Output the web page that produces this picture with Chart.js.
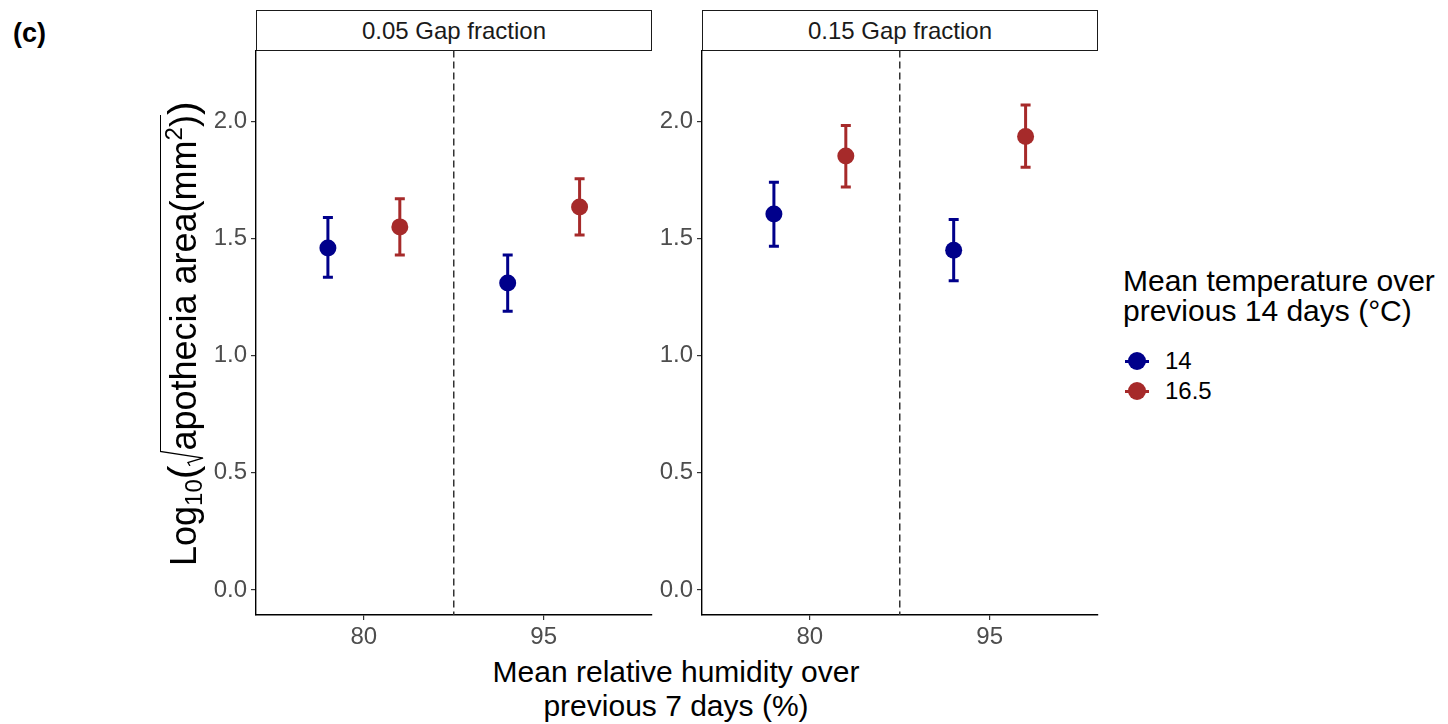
<!DOCTYPE html>
<html>
<head>
<meta charset="utf-8">
<script src="https://cdn.jsdelivr.net/npm/chart.js@4.4.1/dist/chart.umd.min.js"></script>
<style>
  body { margin: 0; width: 1448px; height: 724px; background: #fff; position: relative; overflow: hidden;
         font-family: 'Liberation Sans', Arial, sans-serif; color: #000; }
  canvas { position: absolute; top: 42px; }
  #c1 { left: 190px; }
  #c2 { left: 636px; }
  .strip { position: absolute; top: 10px; width: 396px; height: 41px; box-sizing: border-box;
           border: 1.5px solid #1a1a1a; text-align: center; font-size: 24px; line-height: 38px;
           padding-top: 1px; color: #1a1a1a; }
  #tag { position: absolute; left: 13px; top: 20px; font-size: 27px; font-weight: bold; line-height: 27px; }
  #xtitle { position: absolute; left: 276px; width: 800px; top: 655px; text-align: center;
            font-size: 30px; line-height: 34px; }
  #ytitle { position: absolute; left: 160px; top: 566px; transform-origin: 0 0; transform: rotate(-90deg);
            font-size: 36px; line-height: 36px; padding-top: 5.5px; white-space: nowrap; }
  #ytitle sub { font-size: 24px; line-height: 0; vertical-align: -6px; }
  #ytitle .bigp { font-size: 41px; line-height: 0; vertical-align: -1px; }
  #ytitle svg { display: inline-block; vertical-align: -8px; margin-top: -44px; }
  #ytitle .over { border-top: 1.5px solid #000; padding-top: 2px; }
  #ytitle sup { font-size: 24px; line-height: 0; vertical-align: 14px; }
  #legend { position: absolute; left: 1123px; top: 266px; }
  #legend .ttl { font-size: 30px; line-height: 30px; }
  #legend .item { position: relative; height: 30px; font-size: 24px; line-height: 30px; padding-left: 42px; }
  #legend .key { position: absolute; left: 2px; top: 5px; width: 24px; height: 20px; }
  #legend .key .ln { position: absolute; left: 0; top: 8.5px; width: 24px; height: 3px; }
  #legend .key .dot { position: absolute; left: 3px; top: 1px; width: 18px; height: 18px; border-radius: 50%; }
</style>
</head>
<body>
<div id="tag">(c)</div>
<div class="strip" id="s1" style="left:256px"></div>
<div class="strip" id="s2" style="left:702px"></div>
<canvas id="c1" width="470" height="613"></canvas>
<canvas id="c2" width="470" height="613"></canvas>
<div id="ytitle">Log<sub>10</sub><span class="bigp">(</span><svg width="15" height="44" viewBox="0 0 15 44"><path d="M0 30 L3.5 28 L8 43 L14.5 0.75 L15 0.75" fill="none" stroke="#000" stroke-width="1.3"/></svg><span class="over">apothecia area(mm<sup>2</sup>)</span><span class="bigp">)</span></div>
<div id="xtitle">Mean relative humidity over<br>previous 7 days (%)</div>
<div id="legend">
  <div class="ttl">Mean temperature over<br>previous 14 days (°C)</div>
  <div id="items" style="margin-top:20px"></div>
</div>
<script>
const humidity = ['80', '95'];
const temperatures = ['14', '16.5'];
const gapFractions = ['0.05 Gap fraction', '0.15 Gap fraction'];
const yTicks = [0, 0.5, 1, 1.5, 2];
const colors = ['#00008b', '#a62a2a'];

// 0.05 gap fraction: mean and error bar ends, per humidity level
const gap05Temp14 = [1.46, 1.31];
const gap05Temp14Low = [1.335, 1.19];
const gap05Temp14High = [1.59, 1.43];
const gap05Temp165 = [1.55, 1.635];
const gap05Temp165Low = [1.43, 1.515];
const gap05Temp165High = [1.67, 1.755];

// 0.15 gap fraction
const gap15Temp14 = [1.605, 1.45];
const gap15Temp14Low = [1.467, 1.32];
const gap15Temp14High = [1.74, 1.582];
const gap15Temp165 = [1.853, 1.936];
const gap15Temp165Low = [1.72, 1.805];
const gap15Temp165High = [1.983, 2.07];

const dodge = [-0.2, 0.2];

function makeDataset(k, mean, low, high) {
    return {
        label: temperatures[k],
        data: mean.map((v, i) => ({ x: i + 1 + dodge[k], y: v })),
        low: low,
        high: high,
        backgroundColor: colors[k],
        borderWidth: 0,
        pointRadius: 8.5,
        pointHoverRadius: 8.5
    };
}

const errorBars = {
    id: 'errorBars',
    beforeDatasetsDraw(chart) {
        const { ctx, chartArea, scales: { x, y } } = chart;
        ctx.save();
        // dashed divider between humidity levels
        const xm = x.getPixelForValue(1.5);
        ctx.setLineDash([7, 4]);
        ctx.strokeStyle = '#333';
        ctx.lineWidth = 1.5;
        ctx.beginPath();
        ctx.moveTo(xm, chartArea.top);
        ctx.lineTo(xm, chartArea.bottom);
        ctx.stroke();
        ctx.setLineDash([]);
        chart.data.datasets.forEach((ds) => {
            ctx.strokeStyle = ds.backgroundColor;
            ctx.lineWidth = 3;
            ds.low.forEach((lo, j) => {
                const px = x.getPixelForValue(ds.data[j].x);
                const top = y.getPixelForValue(ds.high[j]);
                const bot = y.getPixelForValue(lo);
                ctx.beginPath();
                ctx.moveTo(px, top); ctx.lineTo(px, bot);
                ctx.moveTo(px - 5, top); ctx.lineTo(px + 5, top);
                ctx.moveTo(px - 5, bot); ctx.lineTo(px + 5, bot);
                ctx.stroke();
            });
        });
        ctx.restore();
    }
};

function makePanel(id, datasets) {
    return new Chart(document.getElementById(id), {
        type: 'scatter',
        data: { datasets: datasets },
        options: {
            responsive: false,
            animation: false,
            devicePixelRatio: 1,
            layout: { padding: { top: 0, right: 5, bottom: 0, left: 0 } },
            plugins: { legend: { display: false }, tooltip: { enabled: false } },
            scales: {
                x: {
                    type: 'linear',
                    min: 0.4,
                    max: 2.6,
                    afterBuildTicks: s => { s.ticks = humidity.map((h, i) => ({ value: i + 1 })); },
                    afterFit: s => { s.height = 40; s.paddingLeft = 0; s.paddingRight = 0; },
                    ticks: {
                        callback: v => humidity[v - 1],
                        font: { family: "'Liberation Sans', Arial, sans-serif", size: 24 },
                        color: '#4d4d4d',
                        padding: 3,
                        maxRotation: 0
                    },
                    grid: { drawOnChartArea: false, drawTicks: true, tickLength: 5, color: '#333', lineWidth: 1.2 },
                    border: { display: true, color: '#000', width: 1.4 }
                },
                y: {
                    min: -0.107,
                    max: 2.303,
                    afterBuildTicks: s => { s.ticks = yTicks.map(v => ({ value: v })); },
                    afterFit: s => { s.width = 66; s.paddingTop = 0; s.paddingBottom = 0; },
                    ticks: {
                        callback: v => v.toFixed(1),
                        font: { family: "'Liberation Sans', Arial, sans-serif", size: 24 },
                        color: '#4d4d4d',
                        padding: 4
                    },
                    grid: { drawOnChartArea: false, drawTicks: true, tickLength: 5, color: '#333', lineWidth: 1.2 },
                    border: { display: true, color: '#000', width: 1.4 }
                }
            }
        },
        plugins: [errorBars]
    });
}

makePanel('c1', [
    makeDataset(0, gap05Temp14, gap05Temp14Low, gap05Temp14High),
    makeDataset(1, gap05Temp165, gap05Temp165Low, gap05Temp165High)
]);
makePanel('c2', [
    makeDataset(0, gap15Temp14, gap15Temp14Low, gap15Temp14High),
    makeDataset(1, gap15Temp165, gap15Temp165Low, gap15Temp165High)
]);

document.getElementById('s1').textContent = gapFractions[0];
document.getElementById('s2').textContent = gapFractions[1];

const items = document.getElementById('items');
temperatures.forEach((t, k) => {
    const row = document.createElement('div');
    row.className = 'item';
    row.innerHTML = `<div class="key"><div class="ln" style="background:${colors[k]}"></div>` +
        `<div class="dot" style="background:${colors[k]}"></div></div>${t}`;
    items.appendChild(row);
});
</script>
</body>
</html>
